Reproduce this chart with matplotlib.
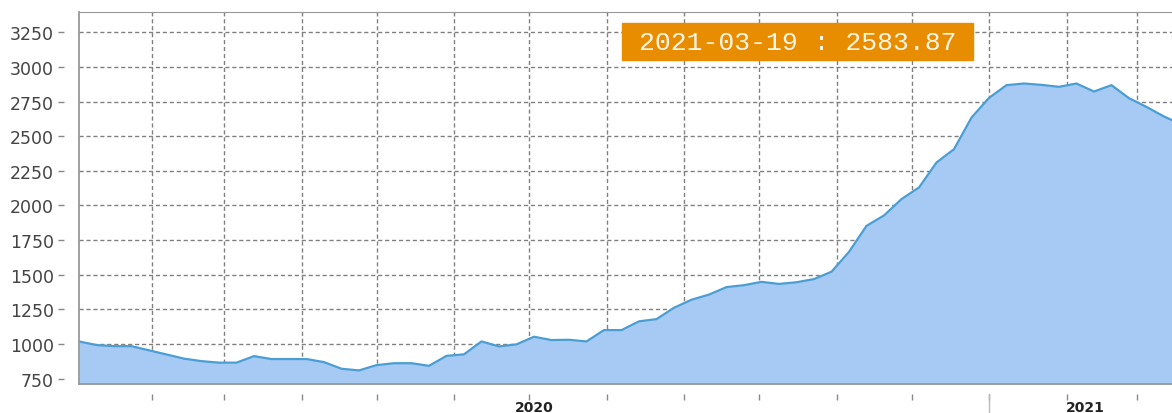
import matplotlib
matplotlib.use("Agg")
import matplotlib.pyplot as plt
import matplotlib.dates as mdates
import pandas as pd
from matplotlib.patches import Rectangle

# weekly values (Fridays), 2020-01-03 .. 2021-03-19
dates = pd.date_range("2020-01-03", "2021-03-19", freq="W-FRI")
values = [1019, 993, 985, 985, 955, 925, 895, 877, 866, 866,
          913, 892, 892, 892, 870, 822, 810, 848, 862, 862,
          843, 915, 926, 1019, 983, 998, 1053, 1029, 1031, 1019,
          1101, 1101, 1164, 1180, 1262, 1320, 1357, 1411, 1425, 1449,
          1434, 1446, 1469, 1522, 1665, 1853, 1928, 2046, 2130, 2310,
          2406, 2634, 2776, 2868, 2880, 2870, 2856, 2880, 2822, 2868,
          2774, 2711, 2642, 2583.87]
yticks = [750, 1000, 1250, 1500, 1750, 2000, 2250, 2500, 2750, 3000, 3250]
years = ["2020", "2021"]
tip_text = "2021-03-19 : 2583.87"

fig = plt.figure(figsize=(11.72, 4.14), dpi=100)
W, H = 1172, 414
# axes runs past the right edge of the picture (right part is clipped)
ax = fig.add_axes([79 / W, 29 / H, 1102.5 / W, (385 - 12.7) / H])

ax.fill_between(dates, values, 700, color="#a6caf4", zorder=2, linewidth=0)
ax.plot(dates, values, color="#4a9ed3", linewidth=1.6, zorder=3)

ax.set_xlim(dates[0], dates[-1])
ax.set_ylim(712, 3398)
ax.set_yticks(yticks)
ax.xaxis.set_major_locator(mdates.MonthLocator())
ax.xaxis.set_major_formatter(plt.NullFormatter())

ax.grid(True, color="#808080", linestyle=(0, (3, 2)), linewidth=1, zorder=1)
ax.set_axisbelow(True)

# ticks are detached from the axis line
ax.spines["bottom"].set_position(("outward", 7))
ax.spines["left"].set_position(("outward", 11))
for s in ["bottom", "left", "right"]:
    ax.spines[s].set_visible(False)
ax.spines["top"].set_color("#999999")
ax.plot([0, 1], [0, 0], transform=ax.transAxes, color="#999999", lw=1.3, clip_on=False, zorder=4)
ax.plot([0, 0], [0, 1], transform=ax.transAxes, color="#999999", lw=1.3, clip_on=False, zorder=4)

ax.tick_params(axis="y", length=4, width=1, color="#888888", labelsize=12.5,
               labelcolor="#444444", pad=3)
ax.tick_params(axis="x", length=4, width=1, color="#888888")

# year labels centred on each year's span, separator at new year
x0 = mdates.date2num(dates[0])
x1 = mdates.date2num(dates[-1])
ny = mdates.date2num(pd.Timestamp("2021-01-01"))
trans = ax.get_xaxis_transform()
ax.text((x0 + ny) / 2, -0.062, years[0], transform=trans, ha="center", va="center",
        fontsize=10, fontweight="bold", color="#222222")
ax.text((ny + x1) / 2, -0.062, years[1], transform=trans, ha="center", va="center",
        fontsize=10, fontweight="bold", color="#222222")
ax.plot([ny, ny], [-0.027, -0.09], transform=trans, color="#bbbbbb", lw=1, clip_on=False)

# tooltip box
fig.patches.append(Rectangle((622 / W, 1 - 60.5 / H), 351 / W, 36.5 / H,
                             transform=fig.transFigure, color="#e88c00", zorder=5))
fig.text(798 / W, 1 - 42.5 / H, tip_text, ha="center", va="center",
         fontsize=19, family="Liberation Mono", color="#fff6e6", zorder=6)

fig.savefig("out.png", dpi=100)
